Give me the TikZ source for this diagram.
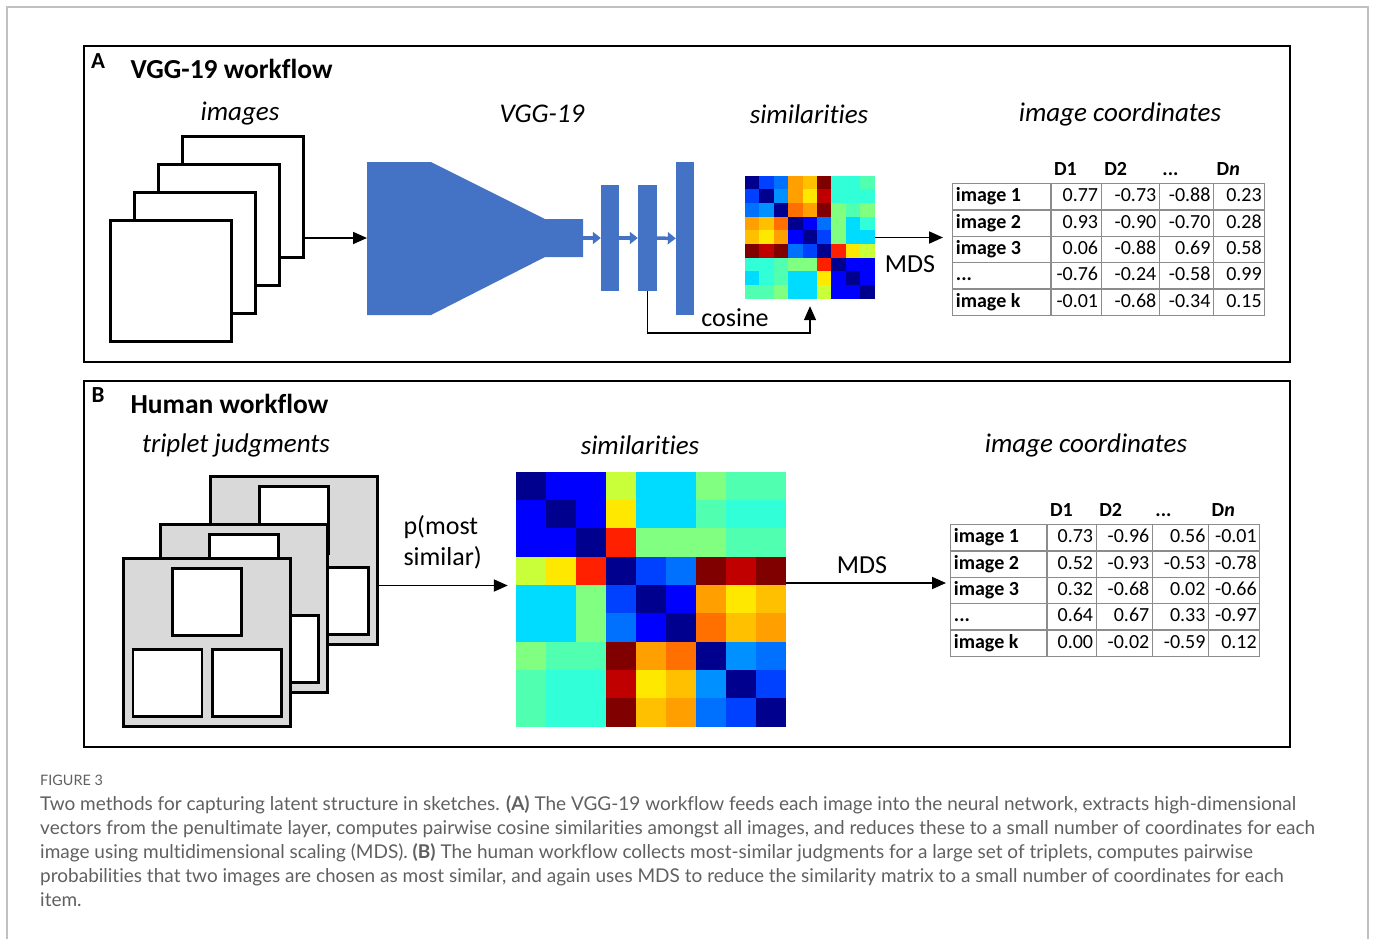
\documentclass[tikz,border=0pt]{standalone}
\usepackage{fontspec}
\setmainfont{Carlito}[Ligatures=NoCommon]
\newfontfamily\capfont{Lato}[Ligatures=NoCommon]
\usepackage{array}
\usepackage{colortbl}
\usetikzlibrary{arrows.meta,positioning}

\definecolor{vggblue}{HTML}{4472C4}
\definecolor{cardgray}{HTML}{D9D9D9}
\definecolor{rulegray}{HTML}{8C8C8C}
\definecolor{capgray}{HTML}{606060}
\definecolor{framegray}{HTML}{C0C0C0}
% heat map colours (jet)
\definecolor{hN}{HTML}{00008F}
\definecolor{hB}{HTML}{0000FF}
\definecolor{hC}{HTML}{0040FF}
\definecolor{hD}{HTML}{0070FF}
\definecolor{hE}{HTML}{0090FF}
\definecolor{hF}{HTML}{00DCFF}
\definecolor{hG}{HTML}{30FFD8}
\definecolor{hH}{HTML}{50FFB0}
\definecolor{hI}{HTML}{80FF80}
\definecolor{hJ}{HTML}{C8FF38}
\definecolor{hK}{HTML}{FFE800}
\definecolor{hL}{HTML}{FFC000}
\definecolor{hM}{HTML}{FFA000}
\definecolor{hO}{HTML}{FF7000}
\definecolor{hR}{HTML}{FF2000}
\definecolor{hS}{HTML}{C00000}
\definecolor{hT}{HTML}{800000}

\newcolumntype{L}[1]{>{\raggedright\arraybackslash}p{#1}}
\newcolumntype{R}[1]{>{\raggedleft\arraybackslash}p{#1}}

\tikzset{
  panel/.style={line width=2.5pt},
  flow/.style={line width=1.8pt, -{Triangle[length=14pt,width=12pt]}},
  netarrow/.style={draw=vggblue, line width=3.5pt, -{Triangle[length=8pt,width=12pt]}},
  fcbar/.style={fill=vggblue, inner sep=0pt, minimum width=18pt},
  imgbox/.style={draw, fill=white, line width=3pt, minimum size=121pt, inner sep=0pt},
  cardbox/.style={draw, fill=cardgray, line width=2.5pt, minimum width=167pt, minimum height=168pt, inner sep=0pt},
  picbox/.style={draw, fill=white, line width=2.5pt, minimum width=69pt, minimum height=67pt, inner sep=0pt},
  heading/.style={font=\fontsize{27}{32}\selectfont\itshape},
  title/.style={font=\fontsize{27.5}{32}\selectfont\bfseries, anchor=west},
  letter/.style={font=\fontsize{23}{27}\selectfont\bfseries},
  plain/.style={font=\fontsize{26}{31}\selectfont},
  coordtab/.style={inner sep=0pt, font=\fontsize{20}{22}\selectfont},
  heatbox/.style={inner sep=0pt}
}

\begin{document}
\begin{tikzpicture}[x=1pt, y=-1pt]
\useasboundingbox (0,0) rectangle (1373,938);
\draw[framegray, line width=1.5pt] (7,940) -- (7,7) -- (1368,7) -- (1368,940);

% panel A
\draw[panel] (84,46) rectangle (1290,362);
\node (labA) [letter] at (98,61) {A};
\node (titleA) [title] at (127,69) {VGG-19 workflow};
\node (hdImages) [heading] at (240,114) {images};
\node (hdVgg) [heading] at (542,114) {VGG-19};
\node (hdSimA) [heading] at (809,114) {similarities};
\node (hdCoordA) [heading] at (1120,114) {image coordinates};

% stack of images
\foreach \k in {3,2,1,0}
  \node (img\k) [imgbox] at (170.5+24*\k, 280.5-28*\k) {};

% network
\fill[vggblue] (367,162) -- (431,162) -- (545,219) -- (583,219) -- (583,257)
  -- (545,257) -- (431,315) -- (367,315) -- cycle;
\coordinate (vggin) at (367,238);
\coordinate (vggout) at (583,238);
\node (fc1) [fcbar, minimum height=106pt] at (610,238) {};
\node (fc2) [fcbar, minimum height=106pt, minimum width=19pt] at (647.5,238) {};
\node (fc3) [fcbar, minimum height=153pt] at (685,238.5) {};
\draw[netarrow] (vggout) -- (fc1);
\draw[netarrow] (fc1) -- (fc2);
\draw[netarrow] (fc2) -- (fc3);

% similarity matrix A
\node (hmA) [heatbox, minimum width=130pt, minimum height=123pt] at (810,237.5) {};
\foreach \row [count=\i] in {
  {hN,hC,hD,hM,hL,hT,hG,hG,hH},
  {hC,hN,hE,hM,hK,hS,hG,hG,hG},
  {hD,hE,hN,hO,hM,hT,hI,hH,hI},
  {hM,hL,hO,hN,hB,hD,hI,hF,hG},
  {hL,hK,hM,hB,hN,hC,hI,hF,hF},
  {hT,hS,hT,hD,hC,hN,hR,hK,hJ},
  {hG,hG,hH,hI,hI,hR,hN,hB,hB},
  {hF,hG,hH,hF,hF,hK,hB,hN,hB},
  {hH,hH,hI,hF,hF,hJ,hB,hB,hN}}
  \foreach \c [count=\j] in \row
    \fill[\c] ([xshift={(\j-1)*14.444pt}, yshift={-(\i-1)*13.667pt}]hmA.north west) rectangle ++(14.6,13.8);

\draw[flow] (img3.east |- vggin) -- (vggin);
\draw[flow, line width=1.5pt] (fc2.south) |- ([yshift=-34pt]hmA.south) -- ([yshift=-7pt]hmA.south);
\node (cosine) [plain] at (735,318) {cosine};

% coordinates A
\node (coordsA) [coordtab, anchor=south west] at (952,316) {%
  \arrayrulecolor{rulegray}\setlength{\arrayrulewidth}{1.2pt}\setlength{\tabcolsep}{2.5pt}%
  \renewcommand{\arraystretch}{1.14}%
  \begin{tabular}{|L{92pt}|R{44pt}|R{52pt}|R{48pt}|R{45pt}|}
  \multicolumn{1}{l}{} & \multicolumn{1}{l}{\textbf{D1}} & \multicolumn{1}{l}{\textbf{D2}} & \multicolumn{1}{l}{\textbf{...}} & \multicolumn{1}{l}{\textbf{D\textit{n}}} \\ \hline
  \textbf{image 1} & 0.77 & -0.73 & -0.88 & 0.23 \\ \hline
  \textbf{image 2} & 0.93 & -0.90 & -0.70 & 0.28 \\ \hline
  \textbf{image 3} & 0.06 & -0.88 & 0.69 & 0.58 \\ \hline
  \textbf{...} & -0.76 & -0.24 & -0.58 & 0.99 \\ \hline
  \textbf{image k} & -0.01 & -0.68 & -0.34 & 0.15 \\ \hline
  \end{tabular}};
\draw[flow] (hmA.east) -- ([xshift=-9pt]hmA.east -| coordsA.west);
\node (mdsA) [plain] at (910,264) {MDS};

% panel B
\draw[panel] (84,381) rectangle (1290,747);
\node (labB) [letter] at (98,395) {B};
\node (titleB) [title] at (127,404) {Human workflow};
\node (hdTriplet) [heading] at (236,445) {triplet judgments};
\node (hdSimB) [heading] at (640,445) {similarities};
\node (hdCoordB) [heading] at (1086,445) {image coordinates};

% triplet cards, back to front
\foreach \k/\dx/\dy in {2/87/-82, 1/37/-34, 0/0/0}{
  \begin{scope}[shift={(\dx,\dy)}]
    \node (card\k) [cardbox] at (207,642.5) {};
    \node (top\k) [picbox] at (207,602) {};
    \node (left\k) [picbox] at (167.5,683) {};
    \node (right\k) [picbox] at (247,683) {};
  \end{scope}
}

% similarity matrix B
\node (hmB) [heatbox, minimum width=270pt, minimum height=255pt] at (651,599.5) {};
\foreach \row [count=\i] in {
  {hN,hB,hB,hJ,hF,hF,hI,hH,hH},
  {hB,hN,hB,hK,hF,hF,hH,hG,hG},
  {hB,hB,hN,hR,hI,hI,hI,hH,hH},
  {hJ,hK,hR,hN,hC,hD,hT,hS,hT},
  {hF,hF,hI,hC,hN,hB,hM,hK,hL},
  {hF,hF,hI,hD,hB,hN,hO,hL,hM},
  {hI,hH,hH,hT,hM,hO,hN,hE,hD},
  {hH,hG,hG,hS,hK,hL,hE,hN,hC},
  {hH,hG,hG,hT,hL,hM,hD,hC,hN}}
  \foreach \c [count=\j] in \row
    \fill[\c] ([xshift={(\j-1)*30pt}, yshift={-(\i-1)*28.333pt}]hmB.north west) rectangle ++(30.2,28.5);

\draw[flow] ([yshift=-25pt]card2.east) -- ([yshift=-25pt,xshift=-8pt]card2.east -| hmB.west);
\node (pmost) [plain, align=left, anchor=west] at (400,542) {p(most\\similar)};

% coordinates B
\node (coordsB) [coordtab, anchor=south west] at (950,657) {%
  \arrayrulecolor{rulegray}\setlength{\arrayrulewidth}{1.2pt}\setlength{\tabcolsep}{2.5pt}%
  \renewcommand{\arraystretch}{1.14}%
  \begin{tabular}{|L{90pt}|R{43pt}|R{50pt}|R{50pt}|R{45pt}|}
  \multicolumn{1}{l}{} & \multicolumn{1}{l}{\textbf{D1}} & \multicolumn{1}{l}{\textbf{D2}} & \multicolumn{1}{l}{\textbf{...}} & \multicolumn{1}{l}{\textbf{D\textit{n}}} \\ \hline
  \textbf{image 1} & 0.73 & -0.96 & 0.56 & -0.01 \\ \hline
  \textbf{image 2} & 0.52 & -0.93 & -0.53 & -0.78 \\ \hline
  \textbf{image 3} & 0.32 & -0.68 & 0.02 & -0.66 \\ \hline
  \textbf{...} & 0.64 & 0.67 & 0.33 & -0.97 \\ \hline
  \textbf{image k} & 0.00 & -0.02 & -0.59 & 0.12 \\ \hline
  \end{tabular}};
\draw[flow] ([yshift=16.5pt]hmB.east) -- ([yshift=16.5pt,xshift=-4pt]hmB.east -| coordsB.west);
\node (mdsB) [plain] at (862,565) {MDS};

% caption
\node (figno) [anchor=west, inner sep=0pt, font=\capfont\fontsize{14.4}{17}\selectfont, text=capgray] at (40,780) {FIGURE 3};
\node (caption) [anchor=north west, align=left, inner sep=0pt, font=\capfont\fontsize{19}{24}\selectfont, text=capgray] at (40,795) {%
Two methods for capturing latent structure in sketches. \textbf{(A)} The VGG-19 workflow feeds each image into the neural network, extracts high-dimensional\\
vectors from the penultimate layer, computes pairwise cosine similarities amongst all images, and reduces these to a small number of coordinates for each\\
image using multidimensional scaling (MDS). \textbf{(B)} The human workflow collects most-similar judgments for a large set of triplets, computes pairwise\\
probabilities that two images are chosen as most similar, and again uses MDS to reduce the similarity matrix to a small number of coordinates for each\\
item.};
\end{tikzpicture}
\end{document}
